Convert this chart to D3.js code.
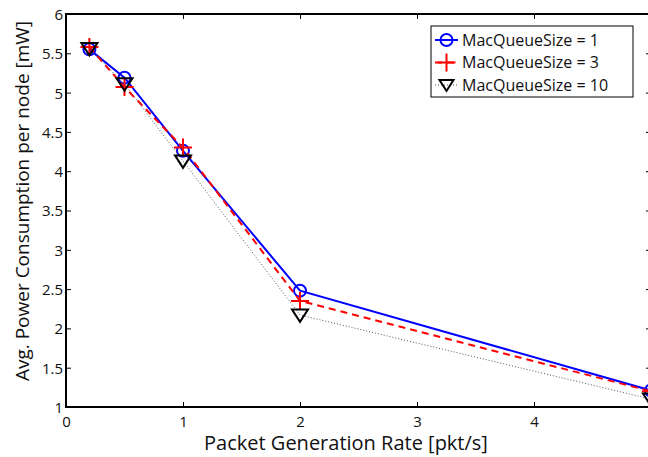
<!DOCTYPE html>
<html>
<head>
<meta charset="utf-8">
<script src="https://cdn.jsdelivr.net/npm/d3@7"></script>
<style>
  body { margin: 0; background: #fff; }
  svg { display: block; font-family: "Open Sans", "DejaVu Sans", sans-serif; }
</style>
</head>
<body>
<svg id="chart" width="648" height="457"></svg>
<script>
// data
const rates = [0.2, 0.5, 1, 2, 5];
const q1 = [5.55, 5.19, 4.26, 2.48, 1.21];
const q3 = [5.58, 5.07, 4.30, 2.35, 1.20];
const q10 = [5.56, 5.11, 4.13, 2.17, 1.10];
const seriesNames = ["MacQueueSize = 1", "MacQueueSize = 3", "MacQueueSize = 10"];

const xTicks = [0, 1, 2, 3, 4, 5];
const yTicks = [1, 1.5, 2, 2.5, 3, 3.5, 4, 4.5, 5, 5.5, 6];
const yTickLabels = ["1", "1.5", "2", "2.5", "3", "3.5", "4", "4.5", "5", "5.5", "6"];

const svg = d3.select("#chart");

const x = d3.scaleLinear().domain([0, 5]).range([66, 651]);
const y = d3.scaleLinear().domain([1, 6]).range([407, 14]);

// axes (ticks point inwards like matlab)
const gx = svg.append("g").attr("transform", `translate(0,${y(1)})`)
    .call(d3.axisBottom(x).tickValues(xTicks).tickSize(-5).tickPadding(9).tickFormat(d3.format("d")));
const gxTop = svg.append("g").attr("transform", `translate(0,${y(6)})`)
    .call(d3.axisTop(x).tickValues(xTicks).tickSize(-5).tickFormat(""));
const gy = svg.append("g").attr("transform", `translate(${x(0)},0)`)
    .call(d3.axisLeft(y).tickValues(yTicks).tickSize(-5).tickPadding(3)
        .tickFormat((d, i) => yTickLabels[i]));
const gyRight = svg.append("g").attr("transform", `translate(${x(5)},0)`)
    .call(d3.axisRight(y).tickValues(yTicks).tickSize(-5).tickFormat(""));

[gx, gxTop, gy, gyRight].forEach(g => {
    g.select(".domain").remove();
    g.selectAll(".tick line").attr("stroke", "#000").attr("stroke-width", 1);
    g.selectAll(".tick text").attr("font-size", 15).attr("fill", "#111")
        .attr("font-family", "Open Sans, sans-serif");
});
gy.selectAll(".tick text").attr("dy", "0.36em");

// box
svg.append("rect")
    .attr("x", x(0)).attr("y", y(6))
    .attr("width", x(5) - x(0)).attr("height", y(1) - y(6))
    .attr("fill", "none").attr("stroke", "#000").attr("stroke-width", 2);

const line = d3.line().x((d, i) => x(rates[i])).y(d => y(d));

// MacQueueSize = 1
svg.append("path").datum(q1).attr("d", line)
    .attr("fill", "none").attr("stroke", "#0000ff").attr("stroke-width", 2);
svg.selectAll(".m1").data(q1).enter().append("circle")
    .attr("cx", (d, i) => x(rates[i])).attr("cy", d => y(d)).attr("r", 6)
    .attr("fill", "none").attr("stroke", "#0000ff").attr("stroke-width", 2);

// MacQueueSize = 3
svg.append("path").datum(q3).attr("d", line)
    .attr("fill", "none").attr("stroke", "#ff0000").attr("stroke-width", 2)
    .attr("stroke-dasharray", "7,5");
function plusPath(s) { return `M${-s},0H${s}M0,${-s}V${s}`; }
svg.selectAll(".m3").data(q3).enter().append("path")
    .attr("transform", (d, i) => `translate(${x(rates[i])},${y(d)})`)
    .attr("d", plusPath(9))
    .attr("fill", "none").attr("stroke", "#ff0000").attr("stroke-width", 2);

// MacQueueSize = 10
function triPath(s) { return `M${-s},${-s * 0.7}L${s},${-s * 0.7}L0,${s * 0.85}Z`; }
svg.append("path").datum(q10).attr("d", line)
    .attr("fill", "none").attr("stroke", "#555").attr("stroke-width", 1)
    .attr("stroke-dasharray", "1,2");
svg.selectAll(".m10").data(q10).enter().append("path")
    .attr("transform", (d, i) => `translate(${x(rates[i])},${y(d)})`)
    .attr("d", triPath(8))
    .attr("fill", "none").attr("stroke", "#000").attr("stroke-width", 2);

// axis labels
svg.append("text").attr("x", 346).attr("y", 450).attr("text-anchor", "middle")
    .attr("font-size", 20).attr("fill", "#111").text("Packet Generation Rate [pkt/s]");
svg.append("text").attr("transform", "translate(29,201) rotate(-90)").attr("text-anchor", "middle")
    .attr("font-size", 19).attr("fill", "#111").text("Avg. Power Consumption per node [mW]");

// legend
const leg = svg.append("g");
leg.append("rect").attr("x", 431).attr("y", 26).attr("width", 202).attr("height", 71)
    .attr("fill", "#fff").attr("stroke", "#000").attr("stroke-width", 1);
const rowY = [40, 62.5, 85];
const legStyle = [
    { stroke: "#0000ff", w: 2, dash: null },
    { stroke: "#ff0000", w: 2, dash: "7,5" },
    { stroke: "#555", w: 1, dash: "1,2" }
];
seriesNames.forEach((name, i) => {
    const g = leg.append("g").attr("transform", `translate(0,${rowY[i]})`);
    g.append("line").attr("x1", 435).attr("x2", 458).attr("y1", 0).attr("y2", 0)
        .attr("stroke", legStyle[i].stroke).attr("stroke-width", legStyle[i].w)
        .attr("stroke-dasharray", legStyle[i].dash);
    const mk = g.append("g").attr("transform", "translate(446.5,0)");
    if (i === 0) mk.append("circle").attr("r", 6).attr("fill", "none").attr("stroke", "#0000ff").attr("stroke-width", 2);
    if (i === 1) mk.append("path").attr("d", plusPath(9)).attr("fill", "none").attr("stroke", "#ff0000").attr("stroke-width", 2);
    if (i === 2) mk.append("path").attr("d", triPath(7)).attr("fill", "none").attr("stroke", "#000").attr("stroke-width", 2);
    g.append("text").attr("x", 462).attr("y", 0).attr("dy", "0.36em")
        .attr("font-size", 16).attr("fill", "#111").text(name);
});
</script>
</body>
</html>
